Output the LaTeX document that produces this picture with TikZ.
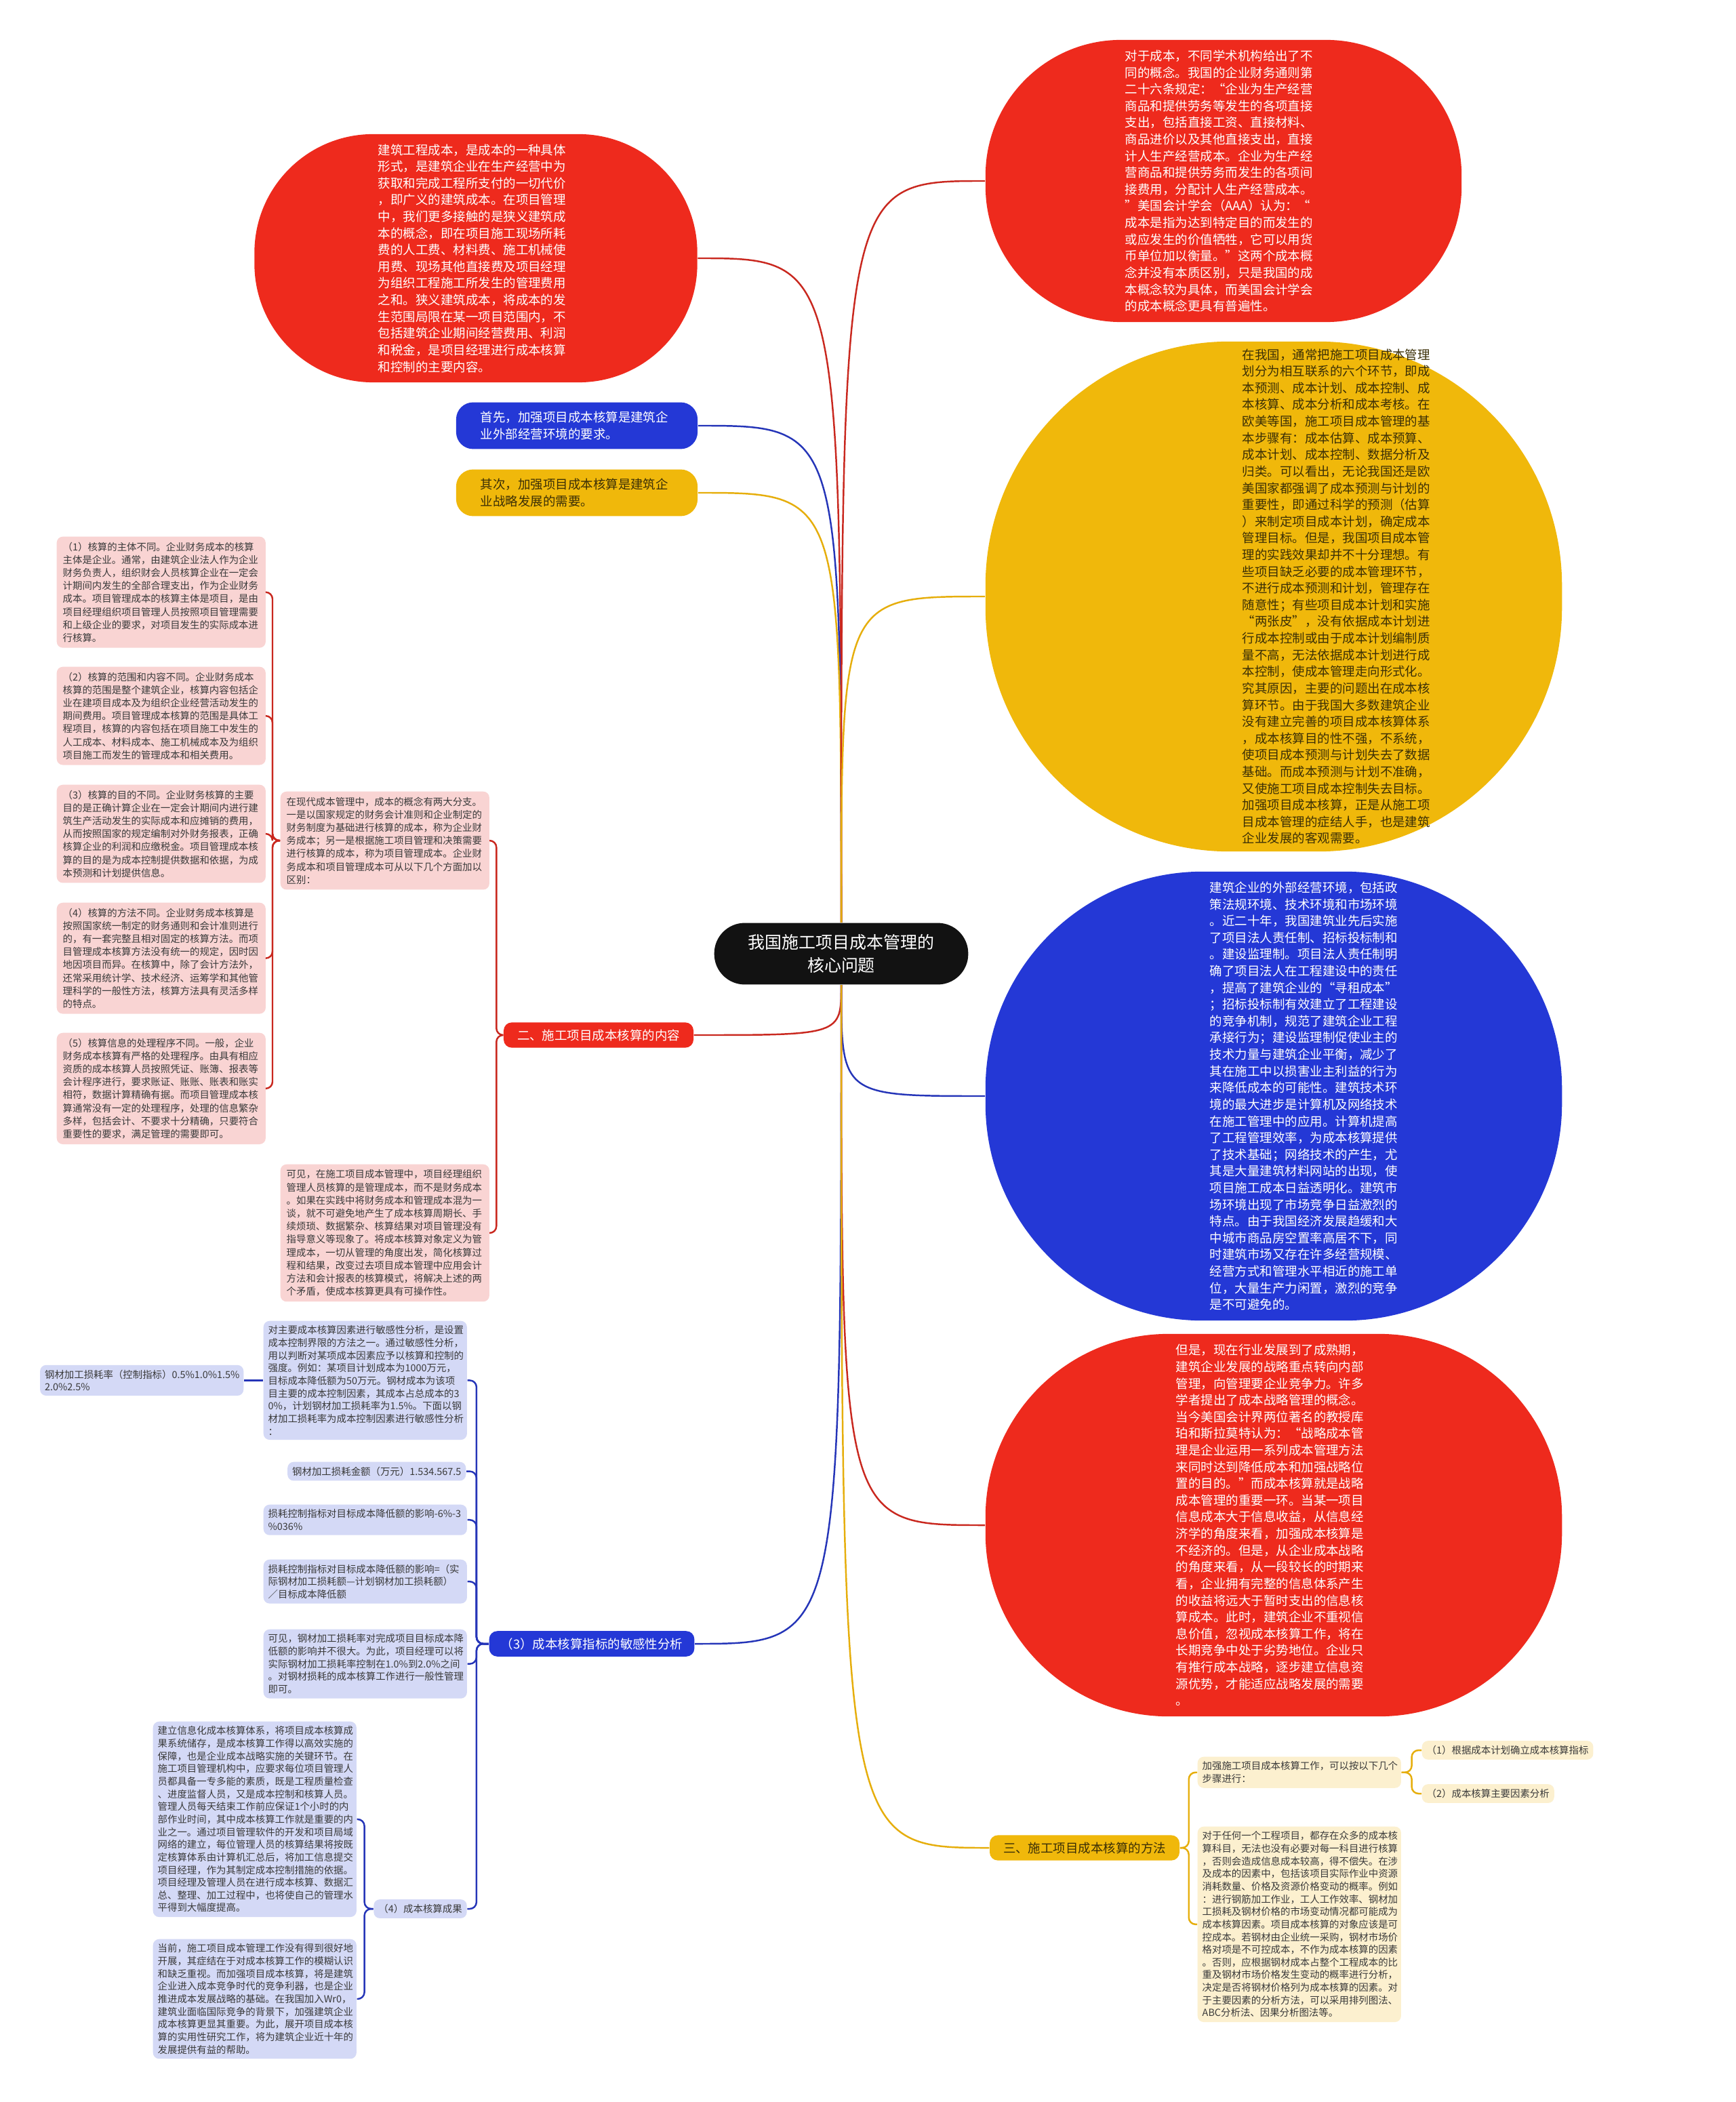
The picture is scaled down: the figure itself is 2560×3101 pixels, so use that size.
\documentclass[tikz,border=0pt]{standalone}
\usepackage{fontspec}
\newfontfamily\cjk{Noto Sans CJK SC}
\usetikzlibrary{positioning}
\definecolor{redfill}{HTML}{EE2A1D}
\definecolor{bluefill}{HTML}{2438D6}
\definecolor{yellowfill}{HTML}{F0B80B}
\definecolor{redline}{HTML}{C9281F}
\definecolor{blueline}{HTML}{2535B8}
\definecolor{yellowline}{HTML}{E6AE0C}
\definecolor{pinkfill}{HTML}{F9D4D3}
\definecolor{lavfill}{HTML}{D4D9F6}
\definecolor{creamfill}{HTML}{FCF0CF}
\definecolor{rootfill}{HTML}{121212}
\definecolor{inktext}{HTML}{3A3A3A}
\definecolor{yellowtext}{HTML}{3B2F06}

\begin{document}
\begin{tikzpicture}[
    x=0.01cm, y=-0.01cm,
    every node/.style={font=\cjk},
    blob/.style={rectangle, rounded corners=#1, inner sep=0pt},
    blobtext/.style={font=\cjk\fontsize{5.25pt}{7pt}\selectfont, text width=2.80cm, align=left, inner sep=0pt},
    rootbox/.style={rectangle, rounded corners=0.45cm, fill=rootfill, text=white, align=center,
        font=\cjk\fontsize{7.1pt}{9.6pt}\selectfont, inner xsep=0.5cm, inner ysep=0.17cm},
    tipbox/.style={rectangle, rounded corners=0.25cm, text width=2.84cm, align=left,
        font=\cjk\fontsize{5.25pt}{7.3pt}\selectfont, inner xsep=0.36cm, inner ysep=0.13cm},
    branchbox/.style={rectangle, rounded corners=0.12cm, font=\cjk\fontsize{5.25pt}{7pt}\selectfont,
        inner xsep=0.2cm, inner ysep=0.1cm},
    leaf/.style={rectangle, rounded corners=0.09cm, text=inktext, align=left,
        font=\cjk\fontsize{4.1pt}{5.3pt}\selectfont, inner xsep=0.07cm, inner ysep=0.07cm},
    pinkbox/.style={leaf, fill=pinkfill, text width=2.90cm, inner xsep=0.09cm, inner ysep=0.08cm,
        font=\cjk\fontsize{4.1pt}{5.46pt}\selectfont},
    lavbox/.style={leaf, fill=lavfill, text width=2.86cm},
    lavtag/.style={leaf, fill=lavfill},
    creambox/.style={leaf, fill=creamfill, text width=2.86cm},
    creamtag/.style={leaf, fill=creamfill},
    redlink/.style={draw=redline, line width=0.7pt},
    bluelink/.style={draw=blueline, line width=0.7pt},
    yellowlink/.style={draw=yellowline, line width=0.7pt},
]
\fill[white] (0,0) rectangle (2560,3101);
\useasboundingbox (0,0) rectangle (2560,3101);

% the root
\node[rootbox] (root) at (1241,1407) {我国施工项目成本管理的\\核心问题};

% big rounded blobs, text laid over them
\node[blob=1.75cm, fill=redfill, minimum width=6.53cm, minimum height=3.66cm] (rA) at (702,381) {};
\node[blobtext, text=white] (rAtext) at (698,381) {建筑工程成本，是成本的一种具体\\
形式，是建筑企业在生产经营中为\\
获取和完成工程所支付的一切代价\\
，即广义的建筑成本。在项目管理\\
中，我们更多接触的是狭义建筑成\\
本的概念，即在项目施工现场所耗\\
费的人工费、材料费、施工机械使\\
用费、现场其他直接费及项目经理\\
为组织工程施工所发生的管理费用\\
之和。狭义建筑成本，将成本的发\\
生范围局限在某一项目范围内，不\\
包括建筑企业期间经营费用、利润\\
和税金，是项目经理进行成本核算\\
和控制的主要内容。};

\node[blob=2.0cm, fill=redfill, minimum width=7.02cm, minimum height=4.16cm] (rB) at (1805,267) {};
\node[blobtext, text=white] (rBtext) at (1800,267) {对于成本，不同学术机构给出了不\\
同的概念。我国的企业财务通则第\\
二十六条规定：“企业为生产经营\\
商品和提供劳务等发生的各项直接\\
支出，包括直接工资、直接材料、\\
商品进价以及其他直接支出，直接\\
计人生产经营成本。企业为生产经\\
营商品和提供劳务而发生的各项间\\
接费用，分配计人生产经营成本。\\
”美国会计学会（AAA）认为：“\\
成本是指为达到特定目的而发生的\\
或应发生的价值牺牲，它可以用货\\
币单位加以衡量。”这两个成本概\\
念并没有本质区别，只是我国的成\\
本概念较为具体，而美国会计学会\\
的成本概念更具有普遍性。};

\node[blob=3.6cm, fill=yellowfill, minimum width=8.5cm, minimum height=7.52cm] (yC) at (1879,880) {};
\node[blobtext, text=yellowtext] (yCtext) at (1973,880) {在我国，通常把施工项目成本管理\\
划分为相互联系的六个环节，即成\\
本预测、成本计划、成本控制、成\\
本核算、成本分析和成本考核。在\\
欧美等国，施工项目成本管理的基\\
本步骤有：成本估算、成本预算、\\
成本计划、成本控制、数据分析及\\
归类。可以看出，无论我国还是欧\\
美国家都强调了成本预测与计划的\\
重要性，即通过科学的预测（估算\\
）来制定项目成本计划，确定成本\\
管理目标。但是，我国项目成本管\\
理的实践效果却并不十分理想。有\\
些项目缺乏必要的成本管理环节，\\
不进行成本预测和计划，管理存在\\
随意性；有些项目成本计划和实施\\
“两张皮”，没有依据成本计划进\\
行成本控制或由于成本计划编制质\\
量不高，无法依据成本计划进行成\\
本控制，使成本管理走向形式化。\\
究其原因，主要的问题出在成本核\\
算环节。由于我国大多数建筑企业\\
没有建立完善的项目成本核算体系\\
，成本核算目的性不强，不系统，\\
使项目成本预测与计划失去了数据\\
基础。而成本预测与计划不准确，\\
又使施工项目成本控制失去目标。\\
加强项目成本核算，正是从施工项\\
目成本管理的症结人手，也是建筑\\
企业发展的客观需要。};

\node[blob=3.2cm, fill=bluefill, minimum width=8.5cm, minimum height=6.62cm] (bD) at (1879,1617) {};
\node[blobtext, text=white] (bDtext) at (1925,1617) {建筑企业的外部经营环境，包括政\\
策法规环境、技术环境和市场环境\\
。近二十年，我国建筑业先后实施\\
了项目法人责任制、招标投标制和\\
。建设监理制。项目法人责任制明\\
确了项目法人在工程建设中的责任\\
，提高了建筑企业的“寻租成本”\\
；招标投标制有效建立了工程建设\\
的竞争机制，规范了建筑企业工程\\
承接行为；建设监理制促使业主的\\
技术力量与建筑企业平衡，减少了\\
其在施工中以损害业主利益的行为\\
来降低成本的可能性。建筑技术环\\
境的最大进步是计算机及网络技术\\
在施工管理中的应用。计算机提高\\
了工程管理效率，为成本核算提供\\
了技术基础；网络技术的产生，尤\\
其是大量建筑材料网站的出现，使\\
项目施工成本日益透明化。建筑市\\
场环境出现了市场竞争日益激烈的\\
特点。由于我国经济发展趋缓和大\\
中城市商品房空置率高居不下，同\\
时建筑市场又存在许多经营规模、\\
经营方式和管理水平相近的施工单\\
位，大量生产力闲置，激烈的竞争\\
是不可避免的。};

\node[blob=2.7cm, fill=redfill, minimum width=8.5cm, minimum height=5.64cm] (rE) at (1879,2250) {};
\node[blobtext, text=white] (rEtext) at (1875,2250) {但是，现在行业发展到了成熟期，\\
建筑企业发展的战略重点转向内部\\
管理，向管理要企业竞争力。许多\\
学者提出了成本战略管理的概念。\\
当今美国会计界两位著名的教授库\\
珀和斯拉莫特认为：“战略成本管\\
理是企业运用一系列成本管理方法\\
来同时达到降低成本和加强战略位\\
置的目的。”而成本核算就是战略\\
成本管理的重要一环。当某一项目\\
信息成本大于信息收益，从信息经\\
济学的角度来看，加强成本核算是\\
不经济的。但是，从企业成本战略\\
的角度来看，从一段较长的时期来\\
看，企业拥有完整的信息体系产生\\
的收益将远大于暂时支出的信息核\\
算成本。此时，建筑企业不重视信\\
息价值，忽视成本核算工作，将在\\
长期竞争中处于劣势地位。企业只\\
有推行成本战略，逐步建立信息资\\
源优势，才能适应战略发展的需要\\
。};

% small first-level nodes
\node[tipbox, fill=bluefill, text=white] (q1) at (851,628) {首先，加强项目成本核算是建筑企\\业外部经营环境的要求。};
\node[tipbox, fill=yellowfill, text=yellowtext] (q2) at (851,727) {其次，加强项目成本核算是建筑企\\业战略发展的需要。};
\node[branchbox, fill=redfill, text=white] (sec2) at (883,1527) {二、施工项目成本核算的内容};
\node[branchbox, fill=bluefill, text=white, inner xsep=0.17cm] (sens) at (873,2425) {（3）成本核算指标的敏感性分析};
\node[branchbox, fill=yellowfill, text=yellowtext] (sec3) at (1600,2726) {三、施工项目成本核算的方法};

% content of section two
\node[pinkbox, anchor=north west] (midTop) at (413,1167) {在现代成本管理中，成本的概念有两大分支。\\
一是以国家规定的财务会计准则和企业制定的\\
财务制度为基础进行核算的成本，称为企业财\\
务成本；另一是根据施工项目管理和决策需要\\
进行核算的成本，称为项目管理成本。企业财\\
务成本和项目管理成本可从以下几个方面加以\\
区别：};
\node[pinkbox, anchor=north west] (midBot) at (413,1717) {可见，在施工项目成本管理中，项目经理组织\\
管理人员核算的是管理成本，而不是财务成本\\
。如果在实践中将财务成本和管理成本混为一\\
谈，就不可避免地产生了成本核算周期长、手\\
续烦琐、数据繁杂、核算结果对项目管理没有\\
指导意义等现象了。将成本核算对象定义为管\\
理成本，一切从管理的角度出发，简化核算过\\
程和结果，改变过去项目成本管理中应用会计\\
方法和会计报表的核算模式，将解决上述的两\\
个矛盾，使成本核算更具有可操作性。};

\node[pinkbox, anchor=north west] (p1) at (83,791) {（1）核算的主体不同。企业财务成本的核算\\
主体是企业。通常，由建筑企业法人作为企业\\
财务负责人，组织财会人员核算企业在一定会\\
计期间内发生的全部合理支出，作为企业财务\\
成本。项目管理成本的核算主体是项目，是由\\
项目经理组织项目管理人员按照项目管理需要\\
和上级企业的要求，对项目发生的实际成本进\\
行核算。};
\node[pinkbox, anchor=north west] (p2) at (83,983) {（2）核算的范围和内容不同。企业财务成本\\
核算的范围是整个建筑企业，核算内容包括企\\
业在建项目成本及为组织企业经营活动发生的\\
期间费用。项目管理成本核算的范围是具体工\\
程项目，核算的内容包括在项目施工中发生的\\
人工成本、材料成本、施工机械成本及为组织\\
项目施工而发生的管理成本和相关费用。};
\node[pinkbox, anchor=north west] (p3) at (83,1157) {（3）核算的目的不同。企业财务核算的主要\\
目的是正确计算企业在一定会计期间内进行建\\
筑生产活动发生的实际成本和应摊销的费用，\\
从而按照国家的规定编制对外财务报表，正确\\
核算企业的利润和应缴税金。项目管理成本核\\
算的目的是为成本控制提供数据和依据，为成\\
本预测和计划提供信息。};
\node[pinkbox, anchor=north west] (p4) at (83,1331) {（4）核算的方法不同。企业财务成本核算是\\
按照国家统一制定的财务通则和会计准则进行\\
的，有一套完整且相对固定的核算方法。而项\\
目管理成本核算方法没有统一的规定，因时因\\
地因项目而异。在核算中，除了会计方法外，\\
还常采用统计学、技术经济、运筹学和其他管\\
理科学的一般性方法，核算方法具有灵活多样\\
的特点。};
\node[pinkbox, anchor=north west] (p5) at (83,1523) {（5）核算信息的处理程序不同。一般，企业\\
财务成本核算有严格的处理程序。由具有相应\\
资质的成本核算人员按照凭证、账簿、报表等\\
会计程序进行，要求账证、账账、账表和账实\\
相符，数据计算精确有据。而项目管理成本核\\
算通常没有一定的处理程序，处理的信息繁杂\\
多样，包括会计、不要求十分精确，只要符合\\
重要性的要求，满足管理的需要即可。};

% sensitivity analysis
\node[lavbox, anchor=north west] (s1) at (388,1948) {对主要成本核算因素进行敏感性分析，是设置\\
成本控制界限的方法之一。通过敏感性分析，\\
用以判断对某项成本因素应予以核算和控制的\\
强度。例如：某项目计划成本为1000万元，\\
目标成本降低额为50万元。钢材成本为该项\\
目主要的成本控制因素，其成本占总成本的3\\
0\%，计划钢材加工损耗率为1.5\%。下面以钢\\
材加工损耗率为成本控制因素进行敏感性分析\\
：};
\node[lavbox, left=0.28cm of s1] (k1) {钢材加工损耗率（控制指标）0.5\%1.0\%1.5\%\\2.0\%2.5\%};
\node[lavtag, anchor=north east] (s2) at (688,2156) {钢材加工损耗金额（万元）1.534.567.5};
\node[lavbox, anchor=north west] (s3) at (388,2219) {损耗控制指标对目标成本降低额的影响-6\%-3\\\%036\%};
\node[lavbox, anchor=north west] (s4) at (388,2300) {损耗控制指标对目标成本降低额的影响=（实\\
际钢材加工损耗额—计划钢材加工损耗额）\\
／目标成本降低额};
\node[lavbox, anchor=north west] (s5) at (388,2403) {可见，钢材加工损耗率对完成项目目标成本降\\
低额的影响并不很大。为此，项目经理可以将\\
实际钢材加工损耗率控制在1.0\%到2.0\%之间\\
。对钢材损耗的成本核算工作进行一般性管理\\
即可。};
\node[lavtag] (four) at (620,2816) {（4）成本核算成果};
\node[lavbox, anchor=north west] (t1) at (225,2539) {建立信息化成本核算体系，将项目成本核算成\\
果系统储存，是成本核算工作得以高效实施的\\
保障，也是企业成本战略实施的关键环节。在\\
施工项目管理机构中，应要求每位项目管理人\\
员都具备一专多能的素质，既是工程质量检查\\
、进度监督人员，又是成本控制和核算人员。\\
管理人员每天结束工作前应保证1个小时的内\\
部作业时间，其中成本核算工作就是重要的内\\
业之一。通过项目管理软件的开发和项目局域\\
网络的建立，每位管理人员的核算结果将按既\\
定核算体系由计算机汇总后，将加工信息提交\\
项目经理，作为其制定成本控制措施的依据。\\
项目经理及管理人员在进行成本核算、数据汇\\
总、整理、加工过程中，也将使自己的管理水\\
平得到大幅度提高。};
\node[lavbox, anchor=north west] (t2) at (225,2860) {当前，施工项目成本管理工作没有得到很好地\\
开展，其症结在于对成本核算工作的模糊认识\\
和缺乏重视。而加强项目成本核算，将是建筑\\
企业进入成本竞争时代的竞争利器，也是企业\\
推进成本发展战略的基础。在我国加入Wr0，\\
建筑业面临国际竞争的背景下，加强建筑企业\\
成本核算更显其重要。为此，展开项目成本核\\
算的实用性研究工作，将为建筑企业近十年的\\
发展提供有益的帮助。};

% section three
\node[creambox, anchor=north west] (m1) at (1766,2591) {加强施工项目成本核算工作，可以按以下几个\\步骤进行：};
\node[creambox, anchor=north west] (m2) at (1766,2694) {对于任何一个工程项目，都存在众多的成本核\\
算科目，无法也没有必要对每一科目进行核算\\
，否则会造成信息成本较高，得不偿失。在涉\\
及成本的因素中，包括该项目实际作业中资源\\
消耗数量、价格及资源价格变动的概率。例如\\
：进行钢筋加工作业，工人工作效率、钢材加\\
工损耗及钢材价格的市场变动情况都可能成为\\
成本核算因素。项目成本核算的对象应该是可\\
控成本。若钢材由企业统一采购，钢材市场价\\
格对项是不可控成本，不作为成本核算的因素\\
。否则，应根据钢材成本占整个工程成本的比\\
重及钢材市场价格发生变动的概率进行分析，\\
决定是否将钢材价格列为成本核算的因素。对\\
于主要因素的分析方法，可以采用排列图法、\\
ABC分析法、因果分析图法等。};
\node[creamtag, anchor=west] (n1) at (2097,2582) {（1）根据成本计划确立成本核算指标};
\node[creamtag, anchor=west] (n2) at (2097,2646) {（2）成本核算主要因素分析};

% curves out of the root
\foreach \n/\l in {rA/redlink, q1/bluelink, q2/yellowlink}
    \draw[\l] (root.north) .. controls (root.north |- \n.east) .. (\n.east);
\foreach \n/\l in {rB/redlink, yC/yellowlink}
    \draw[\l] (root.north) .. controls (root.north |- \n.west) .. (\n.west);
\foreach \n/\l in {sec2/redlink, sens/bluelink}
    \draw[\l] (root.south) .. controls (root.south |- \n.east) .. (\n.east);
\foreach \n/\l in {bD/bluelink, rE/redlink, sec3/yellowlink}
    \draw[\l] (root.south) .. controls (root.south |- \n.west) .. (\n.west);

% brackets
\foreach \n in {midTop, midBot}
    \draw[redlink, rounded corners=0.1cm] (sec2.west) -- ++(-10,0) |- (\n.east);
\foreach \n in {p1, p2, p3, p4, p5}
    \draw[redlink, rounded corners=0.1cm] (midTop.west) -- ++(-11,0) |- (\n.east);
\foreach \n in {s1, s2, s3, s4, s5, four}
    \draw[bluelink, rounded corners=0.1cm] (sens.west) -- ++(-18,0) |- (\n.east);
\draw[bluelink] (s1.west) -- (k1.east);
\foreach \n in {t1, t2}
    \draw[bluelink, rounded corners=0.1cm] (four.west) -- ++(-13,0) |- (\n.east);
\foreach \n in {m1, m2}
    \draw[yellowlink, rounded corners=0.1cm] (sec3.east) -- ++(13,0) |- (\n.west);
\foreach \n in {n1, n2}
    \draw[yellowlink, rounded corners=0.1cm] (m1.east) -- ++(15,0) |- (\n.west);
\end{tikzpicture}
\end{document}
